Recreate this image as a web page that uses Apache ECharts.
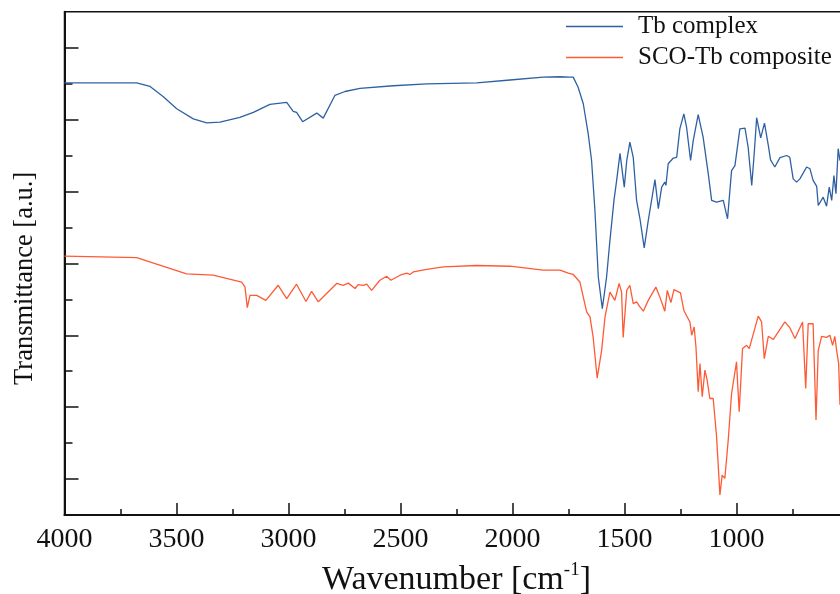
<!DOCTYPE html>
<html>
<head>
<meta charset="utf-8">
<script src="https://cdn.jsdelivr.net/npm/echarts@6/dist/echarts.min.js"></script>
<style>
html,body{margin:0;padding:0;background:#fff;}
#chart{width:840px;height:594px;}
</style>
</head>
<body>
<div id="chart"></div>
<script>
// Wavenumber ticks (cm^-1)
const xTickValues = [1000, 1500, 2000, 2500, 3000, 3500, 4000];

// Tb complex
const tbWavenumber = [4000,3678,3618,3560,3499,3425,3365,3306,3217,3157,3083,3008,2979,2964,2937,2874,2845,2793,2748,2681,2532,2383,2160,2011,1863,1788,1744,1729,1707,1684,1662,1647,1632,1617,1599,1580,1565,1547,1535,1520,1501,1490,1476,1461,1446,1431,1412,1394,1364,1349,1334,1320,1315,1305,1282,1267,1253,1235,1223,1205,1193,1171,1149,1126,1111,1089,1059,1040,1022,1007,985,962,948,932,921,910,892,875,858,848,829,806,776,762,747,732,717,687,672,658,642,635,613,598,586,575,565,556,546,538];
const tbTransmittance = [12.02,12.02,11.92,11.64,11.30,11.02,10.91,10.93,11.06,11.20,11.42,11.48,11.23,11.20,10.94,11.18,11.04,11.67,11.78,11.87,11.94,11.99,12.02,12.10,12.18,12.19,12.18,12.18,11.90,11.44,10.60,9.86,8.47,6.62,5.74,6.62,7.64,8.75,9.31,10.06,9.12,9.86,10.37,9.95,8.75,8.24,7.43,8.19,9.33,8.52,9.12,9.26,9.17,9.77,9.93,9.95,10.74,11.16,10.79,9.86,10.42,11.14,10.51,9.49,8.75,8.70,8.75,8.24,9.58,9.72,10.74,10.76,10.23,9.17,10.05,11.05,10.49,10.90,10.28,9.88,9.68,9.94,10.00,9.95,9.35,9.26,9.35,9.68,9.63,9.31,9.14,8.61,8.84,8.59,9.12,8.75,9.44,8.94,10.19,9.86];

// SCO-Tb composite
const scoWavenumber = [4000,3678,3455,3336,3209,3194,3184,3172,3142,3101,3046,3008,2964,2922,2897,2867,2785,2756,2733,2703,2689,2666,2651,2629,2592,2562,2543,2502,2472,2458,2443,2383,2309,2160,2011,1863,1788,1751,1729,1699,1669,1654,1640,1622,1602,1587,1565,1543,1524,1513,1506,1490,1476,1461,1446,1431,1416,1394,1360,1342,1320,1309,1293,1279,1250,1235,1208,1200,1189,1181,1171,1163,1153,1141,1131,1119,1104,1089,1074,1064,1052,1037,1022,1000,988,973,955,943,932,903,888,876,858,836,784,762,739,705,698,691,680,658,645,635,620,598,583,571,561,553,544,538];
const scoTransmittance = [7.20,7.16,6.71,6.67,6.48,6.34,5.77,6.11,6.11,5.97,6.39,6.02,6.42,5.94,6.22,5.93,6.44,6.39,6.45,6.30,6.41,6.39,6.42,6.25,6.53,6.64,6.53,6.67,6.73,6.69,6.76,6.83,6.90,6.94,6.92,6.81,6.81,6.73,6.69,6.48,5.65,5.51,4.95,3.81,4.58,5.51,6.20,5.97,6.44,6.20,4.94,6.25,6.39,5.88,5.93,5.79,5.67,5.97,6.34,6.06,5.67,6.25,5.91,6.27,6.18,5.69,5.37,5.00,5.23,4.68,3.43,4.21,3.29,4.03,3.75,3.24,3.24,2.18,0.56,1.11,1.02,2.08,3.38,4.26,2.87,4.63,4.72,4.63,4.88,5.53,5.37,4.35,4.97,4.88,5.37,5.21,4.91,5.37,5.32,3.52,5.32,5.32,2.64,4.58,4.97,4.94,5.00,4.72,4.97,4.58,4.21,3.06];

// y-axis tick positions (arbitrary units)
const yMajorTicks = [1,3,5,7,9,11,13];
const yMinorTicks = [2,4,6,8,10,12];

const seriesNames = ['Tb complex', 'SCO-Tb composite'];
const seriesColors = ['#2f61a2', '#ff5a36'];
const FONT = '"Liberation Serif", "Times New Roman", serif';

function zip(xs, ys) { return xs.map((x, i) => [x, ys[i]]); }

const chart = echarts.init(document.getElementById('chart'), null, {renderer: 'canvas'});
chart.setOption({
  animation: false,
  backgroundColor: '#ffffff',
  grid: {
    left: 64.5, top: 11.7, width: 784, height: 503.3,
    containLabel: false,
    outerBoundsMode: 'none',
    show: true, borderColor: '#111', borderWidth: 1.5, backgroundColor: 'transparent'
  },
  legend: {
    orient: 'vertical',
    left: 566, top: 14,
    padding: 0,
    icon: 'rect',
    itemWidth: 57, itemHeight: 1.5, itemGap: 6,
    data: seriesNames,
    textStyle: {fontFamily: FONT, fontSize: 25, color: '#111', padding: [0, 0, 0, 10]}
  },
  xAxis: {
    type: 'value',
    inverse: true,
    min: 500, max: 4000, interval: 500,
    name: '{a|Wavenumber [cm}{b|-1}{a|]}',
    nameLocation: 'middle',
    nameGap: 46,
    nameTextStyle: {
      rich: {
        a: {fontFamily: FONT, fontSize: 34, color: '#111', lineHeight: 38},
        b: {fontFamily: FONT, fontSize: 19, color: '#111', lineHeight: 19, verticalAlign: 'top'}
      }
    },
    axisLine: {show: true, onZero: false, lineStyle: {color: '#111', width: 2}},
    axisTick: {show: true, inside: true, length: 12, lineStyle: {color: '#111', width: 1.5}},
    minorTick: {show: true, splitNumber: 2, length: 6, lineStyle: {color: '#111', width: 1.5}},
    axisLabel: {
      fontFamily: FONT, fontSize: 28, color: '#111', margin: 11,
      formatter: v => (xTickValues.indexOf(v) >= 0 ? String(v) : '')
    },
    splitLine: {show: false},
    minorSplitLine: {show: false}
  },
  yAxis: [{
    type: 'value',
    min: 0, max: 14, interval: 1,
    name: 'Transmittance [a.u.]',
    nameLocation: 'middle',
    nameRotate: 90,
    nameGap: 26,
    nameTextStyle: {fontFamily: FONT, fontSize: 26.5, color: '#111', padding: [0, 30, 0, 0]},
    axisLine: {show: true, onZero: false, lineStyle: {color: '#111', width: 2}},
    axisTick: {show: true, inside: true, length: 14, customValues: yMajorTicks, lineStyle: {color: '#111', width: 1.5}},
    axisLabel: {show: false},
    splitLine: {show: false}
  }, {
    type: 'value',
    position: 'left',
    min: 0, max: 14, interval: 1,
    axisLine: {show: false},
    axisTick: {show: true, inside: true, length: 8, customValues: yMinorTicks, lineStyle: {color: '#111', width: 1.5}},
    axisLabel: {show: false},
    splitLine: {show: false}
  }],
  series: [{
    name: seriesNames[0],
    type: 'line',
    data: zip(tbWavenumber, tbTransmittance),
    showSymbol: false, symbol: 'none',
    lineStyle: {color: seriesColors[0], width: 1.3},
    itemStyle: {color: seriesColors[0]}
  }, {
    name: seriesNames[1],
    type: 'line',
    data: zip(scoWavenumber, scoTransmittance),
    showSymbol: false, symbol: 'none',
    lineStyle: {color: seriesColors[1], width: 1.3},
    itemStyle: {color: seriesColors[1]}
  }]
});
</script>
</body>
</html>
